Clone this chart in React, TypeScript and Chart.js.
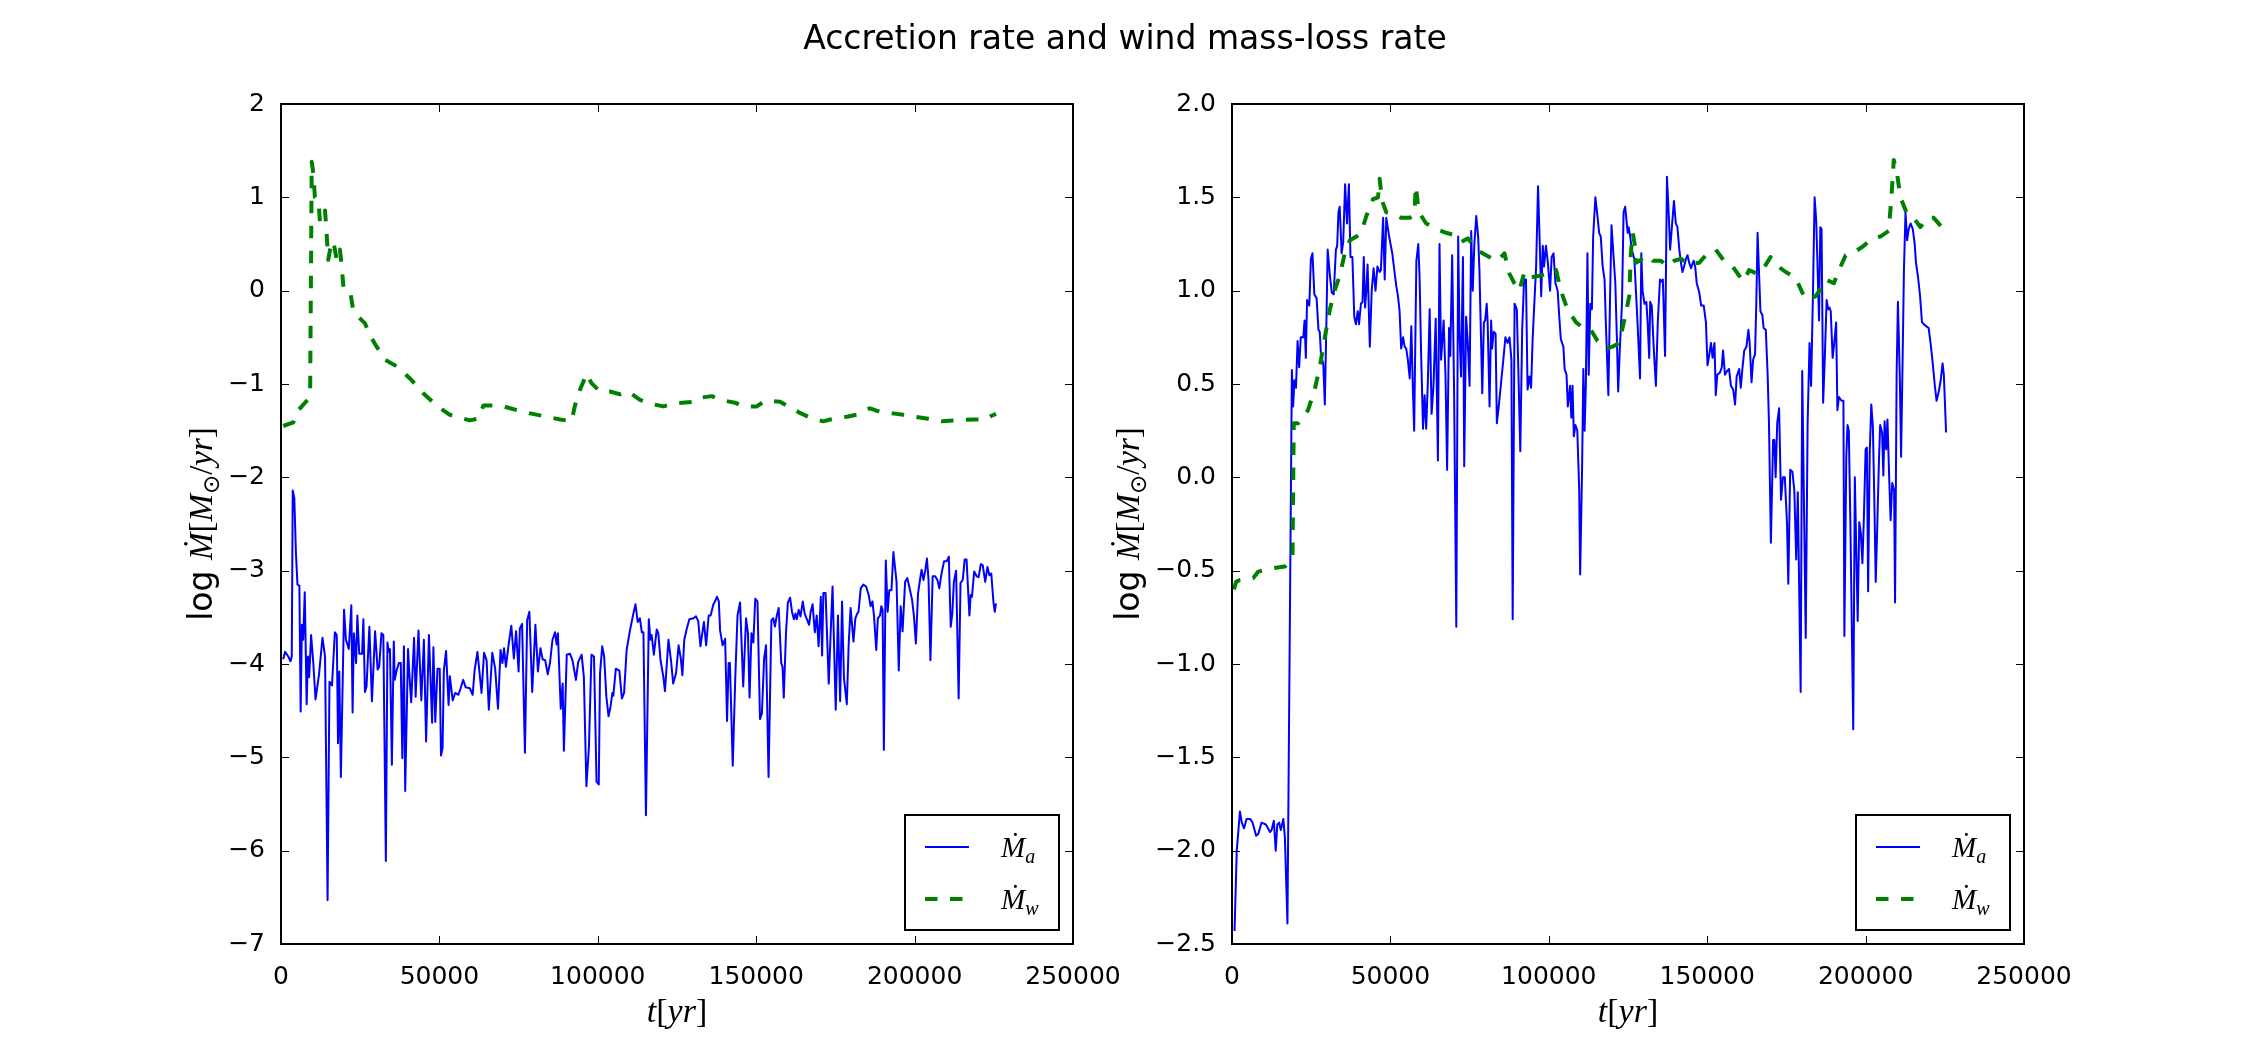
import React, { useEffect, useRef } from 'react';
import { Chart, registerables } from 'chart.js';
Chart.register(...registerables);

const W = 2250;
const H = 1050;

const TITLE = 'Accretion rate and wind mass-loss rate';
const X_TICKS_MAX = 250000;
const X_STEP = 50000;

// ---------- Left panel data: [t (yr), log Mdot] ----------
const leftAccretion: [number, number][] = [
  [700,-3.95],[1300,-3.87],[2300,-3.92],[3000,-3.97],[3400,-3.92],[3700,-2.14],[4200,-2.22],[4700,-2.8],[5200,-3.15],[5800,-3.16],[6200,-4.51],[6600,-3.58],[7000,-3.74],[7500,-3.23],[8100,-4.43],[8500,-3.92],[8900,-4.14],[9500,-3.69],[10200,-3.99],[10900,-4.38],[12000,-4.11],[13100,-3.72],[13900,-3.92],[14700,-6.53],[15300,-4.19],[16100,-4.23],[17000,-3.66],[17600,-3.69],[18000,-4.85],[18400,-4.08],[18900,-5.21],[19900,-3.42],[20500,-3.74],[21400,-3.84],[22200,-3.37],[22600,-4.52],[23000,-3.67],[23700,-3.99],[24100,-3.48],[24700,-3.89],[25600,-3.89],[26000,-3.52],[26500,-4.30],[27000,-4.24],[27900,-3.60],[28700,-4.40],[29700,-3.65],[30500,-4.06],[31000,-4.03],[31700,-3.67],[32300,-3.69],[33100,-6.11],[33600,-3.77],[34000,-3.87],[34400,-3.84],[35000,-5.08],[35600,-3.76],[35900,-4.17],[36500,-4.07],[37200,-3.99],[37800,-3.99],[38300,-5.01],[38800,-3.81],[39200,-5.36],[40100,-3.84],[40500,-4.10],[41100,-4.41],[42000,-3.72],[42500,-4.35],[43400,-3.64],[44300,-4.39],[45100,-3.74],[45800,-4.83],[46700,-3.69],[47700,-4.63],[48100,-3.82],[48700,-4.62],[49400,-4.05],[50100,-4.05],[50500,-4.98],[51000,-4.90],[51400,-4.07],[52100,-3.86],[52900,-4.44],[53300,-4.13],[54200,-4.39],[55000,-4.31],[56000,-4.33],[56700,-4.26],[57500,-4.17],[58300,-4.25],[59600,-4.26],[60500,-4.33],[61100,-4.07],[62000,-3.87],[62600,-4.07],[63300,-4.31],[64100,-3.88],[64900,-3.96],[65600,-4.49],[66700,-3.88],[67600,-4.05],[68500,-4.48],[69300,-3.85],[69900,-3.99],[70400,-3.83],[71000,-4.03],[71900,-3.78],[72700,-3.59],[73500,-3.94],[74200,-3.65],[75000,-4.08],[75400,-3.62],[76100,-3.57],[77000,-4.95],[77700,-3.53],[78400,-3.44],[79300,-4.30],[80300,-3.58],[81100,-4.08],[81900,-3.83],[82600,-3.95],[83400,-3.96],[84200,-4.11],[84900,-3.99],[85700,-3.74],[86500,-3.66],[87000,-3.79],[87400,-3.67],[88300,-4.48],[88900,-4.21],[89300,-4.93],[90200,-3.90],[91200,-3.89],[92000,-3.96],[93100,-4.17],[93800,-3.98],[94900,-3.90],[95600,-4.14],[96400,-5.31],[97200,-4.89],[98000,-3.90],[98800,-3.92],[99600,-5.26],[100300,-5.29],[100700,-4.10],[101400,-3.81],[102000,-3.92],[102700,-4.35],[103400,-4.56],[104000,-4.46],[104600,-4.31],[104900,-4.34],[105700,-4.05],[106800,-4.07],[107600,-4.37],[108300,-4.31],[109100,-3.85],[110100,-3.65],[111100,-3.48],[111900,-3.36],[112600,-3.55],[113300,-3.51],[113900,-3.66],[114400,-3.66],[115200,-5.62],[116100,-3.52],[116600,-3.74],[117000,-3.69],[117700,-3.90],[118600,-3.63],[119100,-3.67],[119800,-3.96],[120700,-4.14],[121200,-4.29],[122300,-3.74],[123100,-3.96],[123800,-4.21],[124700,-4.10],[125500,-3.80],[126200,-3.94],[126700,-4.12],[127300,-3.74],[128100,-3.62],[128900,-3.52],[130200,-3.51],[131000,-3.49],[131700,-3.54],[132400,-3.81],[132900,-3.69],[133500,-3.55],[134200,-3.80],[135000,-3.48],[135600,-3.48],[136500,-3.36],[137000,-3.33],[137600,-3.28],[138200,-3.33],[138600,-3.64],[139400,-3.80],[140200,-3.73],[140800,-4.61],[141300,-3.99],[141700,-3.99],[142600,-5.09],[143400,-4.14],[144100,-3.48],[144900,-3.34],[145900,-4.24],[146800,-3.51],[147400,-3.67],[147900,-4.36],[148500,-3.67],[149100,-3.77],[149700,-3.30],[150400,-3.33],[151200,-4.59],[151800,-4.53],[152500,-3.94],[153100,-3.80],[153900,-5.21],[154800,-3.53],[155400,-3.51],[155900,-3.60],[156500,-3.48],[157100,-3.40],[157900,-3.99],[158300,-4.03],[158700,-4.36],[159400,-3.67],[160000,-3.34],[160700,-3.29],[161300,-3.44],[161900,-3.52],[162400,-3.46],[162800,-3.52],[163400,-3.42],[164000,-3.49],[164700,-3.33],[165300,-3.46],[165900,-3.51],[166700,-3.58],[167200,-3.44],[167800,-3.36],[168500,-3.66],[169100,-3.48],[169700,-3.81],[170400,-3.28],[170800,-3.91],[171200,-3.24],[171900,-3.24],[172900,-4.21],[173500,-3.67],[174100,-3.17],[175100,-4.49],[175800,-3.48],[176500,-4.40],[177100,-3.33],[177700,-4.15],[178600,-4.43],[179200,-3.78],[179800,-3.40],[180700,-3.76],[181300,-3.51],[181900,-3.46],[182300,-3.44],[183000,-3.19],[183800,-3.15],[184700,-3.17],[185500,-3.26],[186100,-3.38],[186700,-3.33],[187200,-3.49],[187900,-3.85],[188400,-3.51],[189100,-3.48],[189500,-3.38],[189900,-3.42],[190300,-4.92],[190900,-2.89],[191500,-3.44],[192000,-3.21],[192700,-3.21],[193300,-2.80],[193900,-2.99],[194300,-3.12],[195000,-4.07],[195600,-3.38],[196200,-3.65],[197000,-3.12],[197700,-3.08],[198300,-3.17],[199200,-3.31],[199800,-3.49],[200400,-3.78],[201100,-3.24],[201700,-3.10],[202200,-2.99],[202800,-3.10],[203400,-2.99],[203900,-2.87],[204400,-3.10],[205000,-3.96],[205700,-3.06],[206500,-3.06],[207200,-3.10],[207800,-3.19],[208500,-3.03],[209300,-2.90],[210100,-2.90],[210800,-2.85],[211400,-3.60],[211900,-3.46],[212400,-3.12],[213100,-3.00],[213900,-4.37],[214500,-3.13],[215200,-3.10],[215800,-2.88],[216400,-2.88],[217300,-3.48],[217700,-3.26],[218100,-3.28],[218800,-3.01],[219600,-3.06],[220200,-3.07],[220900,-2.93],[221500,-2.94],[222300,-3.12],[223000,-2.96],[223600,-3.05],[224200,-3.03],[224900,-3.34],[225300,-3.44],[225700,-3.35]
];

const leftWind: [number, number][] = [
  [700,-1.45],[3900,-1.41],[5500,-1.28],[8900,-1.15],[9200,-1.1],[9700,1.38],[10200,1.26],[10700,1.0],[11800,0.97],[12300,0.74],[13400,0.76],[13900,0.86],[14400,0.61],[14900,0.33],[15500,0.44],[16500,0.53],[17600,0.33],[18600,0.44],[19100,0.29],[19700,0.04],[21800,0.0],[22800,-0.21],[24400,-0.28],[26500,-0.35],[28100,-0.48],[30200,-0.6],[32800,-0.74],[36500,-0.81],[40700,-0.94],[44900,-1.1],[49100,-1.23],[53300,-1.33],[59600,-1.39],[62300,-1.37],[63900,-1.23],[66500,-1.23],[70200,-1.24],[76500,-1.30],[83800,-1.35],[88100,-1.38],[91700,-1.40],[92800,-1.23],[94400,-1.06],[96500,-0.89],[98000,-0.99],[100700,-1.08],[103800,-1.08],[107000,-1.11],[109600,-1.08],[113300,-1.17],[116500,-1.21],[120700,-1.24],[123900,-1.21],[130200,-1.19],[131700,-1.15],[136000,-1.13],[138600,-1.17],[143300,-1.20],[145900,-1.24],[150200,-1.24],[152800,-1.18],[157500,-1.19],[159600,-1.23],[163800,-1.31],[167000,-1.36],[171200,-1.40],[173300,-1.38],[178600,-1.35],[181700,-1.33],[185900,-1.26],[189100,-1.30],[194300,-1.32],[196400,-1.33],[203800,-1.37],[208500,-1.40],[212200,-1.39],[218500,-1.38],[222700,-1.38],[224300,-1.34],[225700,-1.32]
];

// ---------- Right panel data ----------
const rightAccretion: [number, number][] = [
  [800,-2.43],[1500,-2.0],[2500,-1.79],[3100,-1.85],[3800,-1.88],[4600,-1.83],[5700,-1.83],[6500,-1.85],[7600,-1.92],[8300,-1.91],[9300,-1.85],[10700,-1.86],[12000,-1.90],[12500,-1.89],[13200,-1.84],[13800,-2.0],[14300,-1.86],[14900,-1.85],[15400,-1.89],[16200,-1.83],[16700,-1.93],[17500,-2.39],[18900,0.575],[19300,0.38],[19700,0.52],[20200,0.48],[20700,0.73],[21200,0.59],[21700,0.75],[22500,0.75],[22900,0.84],[23300,0.64],[23700,0.95],[24400,0.92],[24900,1.17],[25400,1.2],[26000,0.98],[26700,0.96],[27300,0.79],[27700,0.78],[28100,0.65],[28800,0.61],[29300,0.39],[29800,0.83],[30200,1.22],[30900,1.08],[31500,0.99],[32100,0.98],[32800,1.22],[33200,1.24],[33600,1.42],[34000,1.45],[34600,1.2],[35100,1.26],[35700,1.57],[36300,1.36],[36900,1.57],[37400,1.18],[38000,1.18],[38600,0.86],[39100,0.82],[39700,0.89],[40100,0.82],[40700,0.93],[41200,0.94],[41600,1.18],[42000,0.91],[42400,1.0],[42800,1.14],[43500,0.7],[44100,1.0],[44700,1.12],[45300,1.0],[45900,1.13],[46600,1.1],[47000,1.11],[47700,1.39],[48200,1.06],[48700,1.39],[49600,1.29],[50600,1.2],[51300,1.1],[51900,1.02],[52400,0.97],[52900,0.89],[53400,0.69],[54000,0.75],[54500,0.7],[55000,0.69],[55500,0.63],[56100,0.53],[56600,0.81],[57100,0.47],[57500,0.25],[58200,1.16],[58800,1.25],[59200,1.08],[59700,0.66],[60300,0.26],[60800,0.44],[61300,0.26],[61800,0.5],[62400,0.9],[63000,0.34],[63600,0.49],[64300,0.85],[65000,0.09],[65500,1.25],[66000,0.63],[66800,0.84],[67400,0.54],[67900,0.04],[68500,0.8],[68900,0.65],[69500,1.19],[70100,0.47],[70800,-0.80],[71400,1.29],[71800,0.78],[72300,0.54],[72900,1.18],[73300,0.06],[73900,0.86],[74400,0.73],[75000,0.49],[75500,1.32],[76000,1.0],[76500,1.25],[77100,1.4],[77700,1.29],[78100,1.11],[78600,0.75],[79000,0.45],[79500,0.83],[79900,0.84],[80400,0.93],[80700,0.83],[81300,0.38],[81800,0.84],[82100,0.69],[82600,0.78],[83200,0.77],[83600,0.29],[84200,0.38],[84900,0.5],[85700,0.64],[86300,0.75],[87000,0.72],[87600,0.75],[88200,0.63],[88600,-0.76],[89200,0.93],[89900,0.9],[90500,0.5],[91000,0.14],[91600,0.79],[92200,1.06],[92800,1.06],[93300,0.47],[93900,0.54],[94400,0.48],[94900,0.74],[95400,0.92],[96000,1.13],[96600,1.56],[97200,1.22],[97600,0.97],[98100,1.24],[98500,1.13],[99100,1.24],[99700,1.15],[100400,1.0],[100900,1.18],[101500,1.2],[102100,1.04],[102800,1.0],[103300,0.86],[103800,0.74],[104600,0.7],[105000,0.58],[105600,0.55],[106000,0.38],[106700,0.49],[107100,0.32],[107500,0.49],[107900,0.22],[108400,0.28],[109000,0.25],[109600,-0.07],[109900,-0.52],[110500,0.04],[110900,0.58],[111300,0.25],[111700,0.5],[112200,1.2],[112600,0.55],[113100,0.93],[113600,0.9],[114000,1.29],[114700,1.5],[115300,1.41],[115900,1.31],[116400,1.29],[117000,1.13],[117600,1.06],[118000,0.83],[118800,0.44],[119300,0.93],[119800,1.35],[120300,1.22],[121000,1.04],[121500,0.74],[121900,0.46],[122400,0.68],[123100,0.93],[123600,1.42],[124100,1.45],[124900,1.31],[125200,1.34],[125700,1.29],[126200,1.22],[127000,1.17],[127500,1.0],[128000,0.83],[128800,0.53],[129200,1.2],[129600,1.0],[130200,0.93],[130800,0.94],[131200,0.83],[131700,0.64],[132000,0.94],[132500,0.92],[133100,0.7],[133800,0.49],[134400,0.83],[135100,1.06],[135500,1.05],[136000,1.06],[136700,0.65],[137300,1.61],[137800,1.43],[138300,1.22],[138800,1.33],[139500,1.48],[140100,1.36],[140600,1.34],[141200,1.22],[141700,1.15],[142200,1.1],[142700,1.13],[143300,1.17],[143800,1.19],[144300,1.15],[144900,1.12],[145700,1.16],[146200,1.13],[146700,1.04],[147500,0.99],[148100,0.92],[148900,0.92],[149600,0.83],[150100,0.6],[150600,0.65],[151200,0.72],[151700,0.64],[152300,0.72],[152700,0.44],[153200,0.55],[154000,0.56],[154600,0.59],[155000,0.68],[155600,0.55],[156300,0.57],[156900,0.58],[157500,0.49],[158200,0.47],[158800,0.39],[159300,0.54],[160100,0.58],[160600,0.48],[161100,0.58],[161700,0.68],[162400,0.7],[163000,0.79],[163400,0.72],[164000,0.51],[164500,0.63],[165100,0.66],[165500,0.93],[165900,1.31],[166400,1.08],[166800,0.89],[167400,0.87],[167800,0.8],[168500,0.79],[169100,0.54],[169500,0.29],[170100,-0.35],[170800,0.2],[171200,0.2],[171600,0.0],[172100,0.29],[172700,0.37],[173300,-0.12],[173900,0.0],[174500,0.0],[175200,-0.25],[175600,-0.57],[176200,0.04],[176900,0.03],[177500,-0.07],[178100,-0.44],[178600,-0.08],[179500,-1.15],[180000,0.57],[181100,-0.86],[181700,0.29],[182300,0.72],[182800,0.49],[183400,1.0],[183900,1.5],[184400,1.38],[184800,1.15],[185300,0.84],[185700,1.34],[186100,1.33],[186600,0.4],[187100,0.63],[187700,0.95],[188200,0.9],[188600,0.91],[189000,0.89],[189600,0.64],[190100,0.72],[190700,0.83],[191100,0.36],[191600,0.43],[192400,0.41],[193000,0.41],[193300,-0.85],[193900,0.11],[194300,0.28],[194700,0.25],[195200,-0.25],[196100,-1.35],[196600,0.0],[197100,-0.43],[197500,-0.77],[198000,-0.24],[198500,-0.3],[199000,-0.46],[199500,-0.19],[200000,0.15],[200400,0.16],[200800,-0.61],[201300,0.13],[201800,0.39],[202300,0.27],[202700,-0.07],[203200,-0.56],[203700,-0.25],[204200,0.08],[204600,0.28],[205200,0.24],[205600,0.01],[206000,0.3],[206500,0.15],[206900,0.31],[207500,-0.03],[207900,-0.23],[208400,-0.03],[209000,-0.07],[209300,-0.67],[209800,0.56],[210200,0.94],[210800,0.54],[211200,0.11],[211700,0.65],[212100,1.11],[212600,1.42],[213100,1.27],[213600,1.33],[214200,1.36],[214900,1.33],[215500,1.25],[215900,1.15],[216500,1.08],[217200,0.97],[217800,0.83],[218400,0.82],[219100,0.81],[219900,0.8],[220500,0.72],[221200,0.61],[221800,0.5],[222400,0.41],[223100,0.46],[223700,0.52],[224300,0.61],[224700,0.55],[225400,0.24]
];

const rightWind: [number, number][] = [
  [600,-0.60],[1300,-0.56],[2500,-0.55],[6700,-0.54],[8300,-0.505],[13000,-0.487],[16700,-0.478],[19100,-0.425],[19500,0.29],[20900,0.29],[21900,0.31],[24000,0.36],[26100,0.47],[27700,0.59],[29300,0.75],[30900,0.90],[32400,1.0],[34000,1.08],[35600,1.2],[37200,1.27],[39300,1.29],[40800,1.31],[42400,1.40],[44500,1.49],[46100,1.5],[46600,1.60],[47400,1.48],[48700,1.42],[51300,1.41],[53400,1.39],[56100,1.39],[57600,1.41],[58000,1.56],[59000,1.42],[61300,1.36],[64500,1.33],[67600,1.31],[69700,1.30],[72300,1.26],[74400,1.28],[76000,1.25],[78100,1.21],[80200,1.19],[82300,1.17],[83900,1.16],[86000,1.2],[86700,1.15],[87600,1.09],[89100,1.04],[90700,1.0],[92300,1.10],[93900,1.07],[97000,1.08],[99600,1.09],[102300,1.11],[103800,1.0],[105900,0.9],[108600,0.83],[111700,0.79],[113300,0.79],[115400,0.73],[118000,0.69],[120100,0.70],[122200,0.72],[123800,0.84],[125400,0.97],[125900,1.2],[126500,1.31],[127100,1.25],[127500,1.15],[128600,1.16],[130700,1.19],[132800,1.16],[135400,1.16],[137500,1.13],[139600,1.16],[141700,1.17],[144300,1.14],[147500,1.15],[149600,1.19],[152700,1.22],[155300,1.16],[158000,1.13],[160100,1.08],[161600,1.05],[163200,1.11],[165800,1.09],[167400,1.11],[170000,1.18],[171600,1.14],[174800,1.10],[177900,1.07],[180000,0.99],[181600,0.95],[184200,0.97],[185800,1.01],[187400,1.06],[190000,1.04],[191600,1.11],[193700,1.19],[196800,1.21],[199400,1.24],[202100,1.28],[204700,1.29],[207300,1.32],[208100,1.49],[208900,1.70],[209900,1.63],[211000,1.50],[213100,1.41],[215200,1.39],[217300,1.34],[219400,1.39],[221500,1.39],[224100,1.34]
];

const leftYTicks = { min: -7, max: 2, step: 1, decimals: 0 };
const rightYTicks = { min: -2.5, max: 2, step: 0.5, decimals: 1 };

const BLUE = '#0000ff';
const GREEN = '#008000';

const SANS = '"DejaVu Sans", "Bitstream Vera Sans", sans-serif';
const SERIF = '"Liberation Serif", "DejaVu Serif", serif';
const it = (s: number) => `italic ${s}px ${SERIF}`;
const rm = (s: number) => `${s}px ${SERIF}`;
const TICK_FONT = 25;

type Run = { t: string; f: string; dy?: number };

function runsWidth(ctx: CanvasRenderingContext2D, runs: Run[]) {
  let w = 0;
  for (const r of runs) { ctx.font = r.f; w += ctx.measureText(r.t).width; }
  return w;
}
function drawRuns(ctx: CanvasRenderingContext2D, runs: Run[], x: number, y: number) {
  let cx = x;
  for (const r of runs) {
    ctx.font = r.f;
    ctx.fillText(r.t, cx, y + (r.dy || 0));
    cx += ctx.measureText(r.t).width;
  }
}

const YLAB = 33;
const XLAB = 34;
const yLabelRuns: Run[] = [
  { t: 'log ', f: `${YLAB}px ${SANS}` },
  { t: '\u1E40', f: it(YLAB) },
  { t: '[', f: rm(YLAB) },
  { t: 'M', f: it(YLAB) },
  { t: '\u2299', f: `${Math.round(YLAB * 0.7)}px ${SANS}`, dy: YLAB * 0.2 },
  { t: '/', f: rm(YLAB) },
  { t: 'yr', f: it(YLAB) },
  { t: ']', f: rm(YLAB) },
];
const xLabelRuns: Run[] = [
  { t: 't', f: it(XLAB) },
  { t: '[', f: rm(XLAB) },
  { t: 'yr', f: it(XLAB) },
  { t: ']', f: rm(XLAB) },
];
const LEG = 29;
const legendRows = [
  { runs: [{ t: '\u1E40', f: it(LEG) }, { t: 'a', f: it(Math.round(LEG * 0.7)), dy: LEG * 0.22 }] as Run[], color: BLUE, width: 2, dash: [] as number[] },
  { runs: [{ t: '\u1E40', f: it(LEG) }, { t: 'w', f: it(Math.round(LEG * 0.7)), dy: LEG * 0.22 }] as Run[], color: GREEN, width: 4, dash: [12.5, 12.5] },
];

function decorPlugin(withTitle: boolean) {
  return {
    id: 'decor',
    afterDraw(chart: any) {
      const ctx: CanvasRenderingContext2D = chart.ctx;
      const a = chart.chartArea;
      const xs = chart.scales.x;
      const ys = chart.scales.y;
      ctx.save();
      ctx.fillStyle = '#000';
      ctx.strokeStyle = '#000';

      // inward ticks on all four sides
      ctx.lineWidth = 1;
      ctx.beginPath();
      for (const t of xs.ticks) {
        const p = Math.round(xs.getPixelForValue(t.value)) + 0.5;
        ctx.moveTo(p, a.bottom); ctx.lineTo(p, a.bottom - 8);
        ctx.moveTo(p, a.top); ctx.lineTo(p, a.top + 8);
      }
      for (const t of ys.ticks) {
        const p = Math.round(ys.getPixelForValue(t.value)) + 0.5;
        ctx.moveTo(a.left, p); ctx.lineTo(a.left + 8, p);
        ctx.moveTo(a.right, p); ctx.lineTo(a.right - 8, p);
      }
      ctx.stroke();

      // frame
      ctx.lineWidth = 2;
      ctx.strokeRect(a.left, a.top, a.right - a.left, a.bottom - a.top);

      // legend
      const bw = 154, bh = 115;
      const bx = a.right - 14 - bw;
      const by = a.bottom - 14 - bh;
      ctx.fillStyle = '#fff';
      ctx.fillRect(bx, by, bw, bh);
      ctx.lineWidth = 2;
      ctx.strokeStyle = '#000';
      ctx.strokeRect(bx, by, bw, bh);
      legendRows.forEach((row, i) => {
        const ly = by + 32 + i * 52;
        ctx.save();
        ctx.strokeStyle = row.color;
        ctx.lineWidth = row.width;
        ctx.setLineDash(row.dash);
        ctx.lineCap = 'butt';
        ctx.beginPath();
        ctx.moveTo(bx + 20, ly);
        ctx.lineTo(bx + 64, ly);
        ctx.stroke();
        ctx.restore();
        ctx.fillStyle = '#000';
        ctx.textAlign = 'left';
        ctx.textBaseline = 'alphabetic';
        drawRuns(ctx, row.runs, bx + 96, ly + 10);
      });

      // axis labels
      ctx.fillStyle = '#000';
      ctx.textAlign = 'left';
      ctx.textBaseline = 'alphabetic';
      const xw = runsWidth(ctx, xLabelRuns);
      drawRuns(ctx, xLabelRuns, (a.left + a.right) / 2 - xw / 2, 1022);

      // y label placed left of the widest tick label
      ctx.font = `${TICK_FONT}px ${SANS}`;
      let tw = 0;
      for (const t of ys.ticks) {
        const lbl = String(t.label ?? '');
        tw = Math.max(tw, ctx.measureText(lbl).width);
      }
      const yw = runsWidth(ctx, yLabelRuns);
      ctx.save();
      ctx.translate(a.left - 8 - tw - 24, (a.top + a.bottom) / 2);
      ctx.rotate(-Math.PI / 2);
      drawRuns(ctx, yLabelRuns, -yw / 2, 0);
      ctx.restore();

      if (withTitle) {
        ctx.font = `33px ${SANS}`;
        ctx.textAlign = 'center';
        ctx.fillText(TITLE, 1125, 49);
      }
      ctx.restore();
    },
  };
}

const fmt = (decimals: number) => (v: any) => {
  const n = Number(v);
  const s = Math.abs(n).toFixed(decimals);
  return (n < -1e-9 ? '\u2212' : '') + s;
};

function makeConfig(
  acc: [number, number][],
  wind: [number, number][],
  yt: { min: number; max: number; step: number; decimals: number },
  left: number,
  withTitle: boolean
): any {
  const YW = 100;
  const XH = 60;
  const right = left + 792;
  return {
    type: 'line',
    data: {
      datasets: [
        {
          label: 'Ma',
          data: acc.map(([x, y]) => ({ x, y })),
          borderColor: BLUE,
          borderWidth: 2,
          pointRadius: 0,
          tension: 0,
          fill: false,
          borderJoinStyle: 'round',
          order: 2,
        },
        {
          label: 'Mw',
          data: wind.map(([x, y]) => ({ x, y })),
          borderColor: GREEN,
          borderWidth: 4,
          borderDash: [12.5, 12.5],
          pointRadius: 0,
          tension: 0,
          fill: false,
          borderJoinStyle: 'round',
          order: 1,
        },
      ],
    },
    options: {
      responsive: false,
      maintainAspectRatio: false,
      animation: false,
      events: [],
      layout: {
        padding: { left: left - YW, right: W - right, top: 104, bottom: H - 944 - XH },
      },
      plugins: { legend: { display: false }, tooltip: { enabled: false }, title: { display: false } },
      scales: {
        x: {
          type: 'linear',
          min: 0,
          max: X_TICKS_MAX,
          grid: { display: false },
          border: { display: false },
          afterFit: (s: any) => { s.height = XH; },
          ticks: {
            stepSize: X_STEP,
            autoSkip: false,
            maxRotation: 0,
            padding: 10,
            color: '#000',
            font: { family: 'DejaVu Sans', size: TICK_FONT },
            callback: (v: any) => String(v),
          },
        },
        y: {
          type: 'linear',
          min: yt.min,
          max: yt.max,
          grid: { display: false },
          border: { display: false },
          afterFit: (s: any) => { s.width = YW; },
          ticks: {
            stepSize: yt.step,
            autoSkip: false,
            padding: 8,
            color: '#000',
            font: { family: 'DejaVu Sans', size: TICK_FONT },
            callback: fmt(yt.decimals),
          },
        },
      },
    },
    plugins: [decorPlugin(withTitle)],
  };
}

export default function App() {
  const c1 = useRef<HTMLCanvasElement>(null);
  const c2 = useRef<HTMLCanvasElement>(null);
  useEffect(() => {
    const ch1 = new Chart(c1.current!, makeConfig(leftAccretion, leftWind, leftYTicks, 281, true));
    const ch2 = new Chart(c2.current!, makeConfig(rightAccretion, rightWind, rightYTicks, 1232, false));
    return () => { ch1.destroy(); ch2.destroy(); };
  }, []);
  const cs: React.CSSProperties = { position: 'absolute', left: 0, top: 0, width: W, height: H };
  return (
    <div style={{ position: 'absolute', left: 0, top: 0, width: W, height: H, background: '#fff', overflow: 'hidden' }}>
      <canvas ref={c1} width={W} height={H} style={cs} />
      <canvas ref={c2} width={W} height={H} style={cs} />
    </div>
  );
}
